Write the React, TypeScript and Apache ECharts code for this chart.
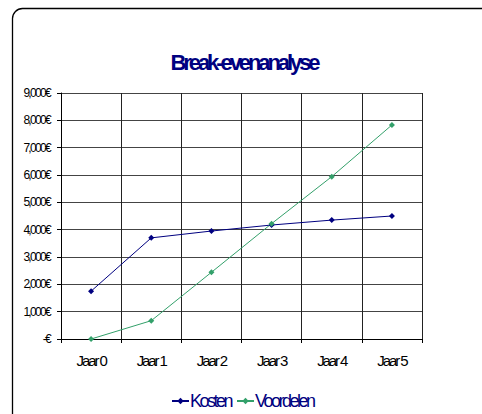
import React, { useEffect, useRef } from "react";
import * as echarts from "echarts";

const categories = ["Jaar 0", "Jaar 1", "Jaar 2", "Jaar 3", "Jaar 4", "Jaar 5"];
const kosten = [1750, 3700, 3950, 4170, 4350, 4500];
const voordelen = [0, 670, 2440, 4220, 5940, 7830];
const seriesNames = ["Kosten", "Voordelen"];
const titleText = "Break-evenanalyse";

const FONT = "'Liberation Sans', Arial, sans-serif";

function fmt(v: number): string {
  if (v === 0) return "-€";
  const s = String(v);
  return s.slice(0, s.length - 3) + "," + s.slice(s.length - 3) + "€";
}

export default function App() {
  const ref = useRef<HTMLDivElement>(null);
  useEffect(() => {
    if (!ref.current) return;
    const chart = echarts.init(ref.current, null, { renderer: "svg" });
    const legendText = { color: "#000080", fontFamily: FONT, fontSize: 18, padding: [0, 0, 0, -4] };
    chart.setOption({
      animation: false,
      backgroundColor: "#fff",
      graphic: [
        {
          type: "rect",
          shape: { x: 12.5, y: 8.5, width: 490, height: 430, r: 10 },
          style: { fill: "none", stroke: "#000", lineWidth: 1.3 },
          silent: true,
        },
        {
          type: "text",
          x: 244,
          y: 62,
          style: {
            text: titleText,
            fontFamily: FONT,
            fontWeight: "bold",
            fontSize: 22,
            fill: "#000080",
            align: "center",
            verticalAlign: "middle",
          },
        },
      ],
      grid: { left: 61, right: 60, top: 93, bottom: 75, containLabel: false },
      legend: [
        {
          data: [seriesNames[0]],
          left: 166,
          top: 387,
          itemWidth: 17,
          itemHeight: 8,
          textStyle: legendText,
        },
        {
          data: [seriesNames[1]],
          left: 231,
          top: 387,
          itemWidth: 17,
          itemHeight: 8,
          textStyle: legendText,
        },
      ],
      xAxis: {
        type: "category",
        data: categories,
        boundaryGap: true,
        axisLine: { lineStyle: { color: "#000", width: 1 } },
        axisTick: { show: true, length: 4, lineStyle: { color: "#000" } },
        axisLabel: { color: "#000", fontFamily: FONT, fontSize: 15, margin: 14 },
        splitLine: { show: true, lineStyle: { color: "#222", width: 1 } },
      },
      yAxis: {
        type: "value",
        min: 0,
        max: 9000,
        interval: 1000,
        axisLine: { show: true, lineStyle: { color: "#000", width: 1 } },
        axisTick: { show: true, length: 4, lineStyle: { color: "#000" } },
        axisLabel: { color: "#000", fontFamily: FONT, fontSize: 12, margin: 11, formatter: fmt },
        splitLine: { show: true, lineStyle: { color: "#444", width: 1 } },
      },
      series: [
        {
          name: seriesNames[0],
          type: "line",
          data: kosten,
          color: "#000080",
          symbol: "diamond",
          symbolSize: 6,
          lineStyle: { width: 1, color: "#000080" },
          itemStyle: { color: "#000080" },
        },
        {
          name: seriesNames[1],
          type: "line",
          data: voordelen,
          color: "#33a06a",
          symbol: "diamond",
          symbolSize: 6,
          lineStyle: { width: 1, color: "#33a06a" },
          itemStyle: { color: "#33a06a" },
        },
      ],
    });
    return () => chart.dispose();
  }, []);
  return (
    <>
      <style>{".chartbox text { letter-spacing: -0.14em; }"}</style>
      <div
        ref={ref}
        className="chartbox"
        style={{ width: 482, height: 414, position: "absolute", left: 0, top: 0 }}
      />
    </>
  );
}
